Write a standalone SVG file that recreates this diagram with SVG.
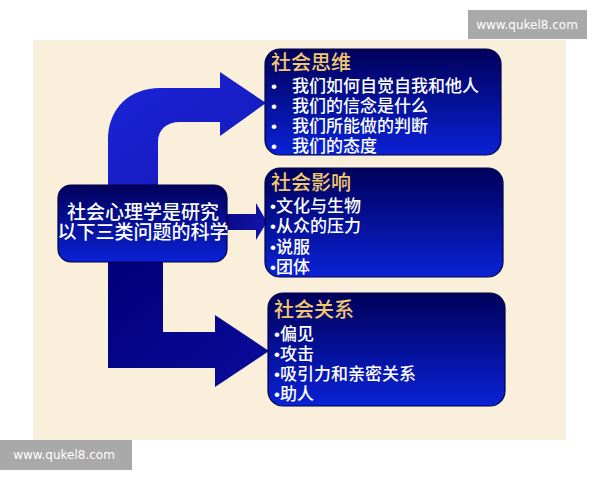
<svg xmlns="http://www.w3.org/2000/svg" width="600" height="480" viewBox="0 0 600 480">
<defs>
<linearGradient id="boxg" x1="0" y1="0" x2="0" y2="1">
<stop offset="0" stop-color="#00005a"/>
<stop offset="1" stop-color="#0a22d6"/>
</linearGradient>
<linearGradient id="upg" x1="0" y1="0" x2="1" y2="1">
<stop offset="0" stop-color="#1c24d8"/>
<stop offset="1" stop-color="#1418b8"/>
</linearGradient>
<linearGradient id="lowg" x1="0" y1="0" x2="1" y2="1">
<stop offset="0" stop-color="#000078"/>
<stop offset="1" stop-color="#0a0c9c"/>
</linearGradient>
<linearGradient id="midg" x1="0" y1="0" x2="1" y2="0">
<stop offset="0" stop-color="#0a0a86"/>
<stop offset="1" stop-color="#1414b0"/>
</linearGradient>
</defs>
<style>
.box{fill:url(#boxg);stroke:#000048;stroke-width:1.2}
.t{font-family:"Liberation Sans","Noto Sans CJK SC",sans-serif;fill:#ffffff;font-weight:500}
.title{font-family:"Liberation Sans","Noto Sans CJK SC",sans-serif;fill:#f2c86c;font-size:20px;font-weight:500}
.item{font-size:17px}
.wm{fill:#a9a9a9}
.wmt{font-family:"DejaVu Sans",sans-serif;font-size:12px;fill:#ffffff}
</style>
<rect x="0" y="0" width="600" height="480" fill="#ffffff"/>
<rect x="33" y="40" width="533" height="400" fill="#f9efdb"/>

<g id="connectors">
<path d="M108,185 L108,140 C108,108 130,88 160,88 L220,88 L220,72 L266,103 L220,136 L220,122 L180,122 C166,122 158,130 158,142 L158,185 Z" fill="url(#upg)"/>
<path d="M227,214 L256,214 L256,203 L267,222 L256,240 L256,230 L227,230 Z" fill="url(#midg)"/>
<path d="M108,262 L108,368 L215,368 L215,387 L269,351 L215,315 L215,332 L163,332 L163,262 Z" fill="url(#lowg)"/>
</g>

<g id="center">
<rect class="box" x="58" y="185" width="169" height="77" rx="13"/>
<text class="t" x="143" y="219" font-size="19" text-anchor="middle">社会心理学是研究</text>
<text class="t" x="143" y="239" font-size="19" text-anchor="middle">以下三类问题的科学</text>
</g>

<g id="social-thinking">
<rect class="box" x="265" y="49" width="236" height="106" rx="15"/>
<text class="title" x="271" y="70">社会思维</text>
<g class="t item">
<text x="271" y="92">•</text><text x="292" y="92">我们如何自觉自我和他人</text>
<text x="271" y="112">•</text><text x="292" y="112">我们的信念是什么</text>
<text x="271" y="132">•</text><text x="292" y="132">我们所能做的判断</text>
<text x="271" y="152">•</text><text x="292" y="152">我们的态度</text>
</g>
</g>

<g id="social-influence">
<rect class="box" x="265" y="168" width="238" height="109" rx="15"/>
<text class="title" x="271" y="190">社会影响</text>
<g class="t item">
<text x="270" y="212">•文化与生物</text>
<text x="270" y="232">•从众的压力</text>
<text x="270" y="253">•说服</text>
<text x="270" y="273">•团体</text>
</g>
</g>

<g id="social-relations">
<rect class="box" x="268" y="293" width="237" height="113" rx="15"/>
<text class="title" x="274" y="317">社会关系</text>
<g class="t item">
<text x="274" y="340">•偏见</text>
<text x="274" y="360">•攻击</text>
<text x="274" y="380">•吸引力和亲密关系</text>
<text x="274" y="400">•助人</text>
</g>
</g>

<g id="watermark-top">
<rect class="wm" x="468" y="10" width="119" height="29"/>
<text class="wmt" x="527" y="29" text-anchor="middle">www.qukel8.com</text>
</g>
<g id="watermark-bottom">
<rect class="wm" x="0" y="440" width="132" height="30"/>
<text class="wmt" x="64" y="459" text-anchor="middle">www.qukel8.com</text>
</g>
</svg>
